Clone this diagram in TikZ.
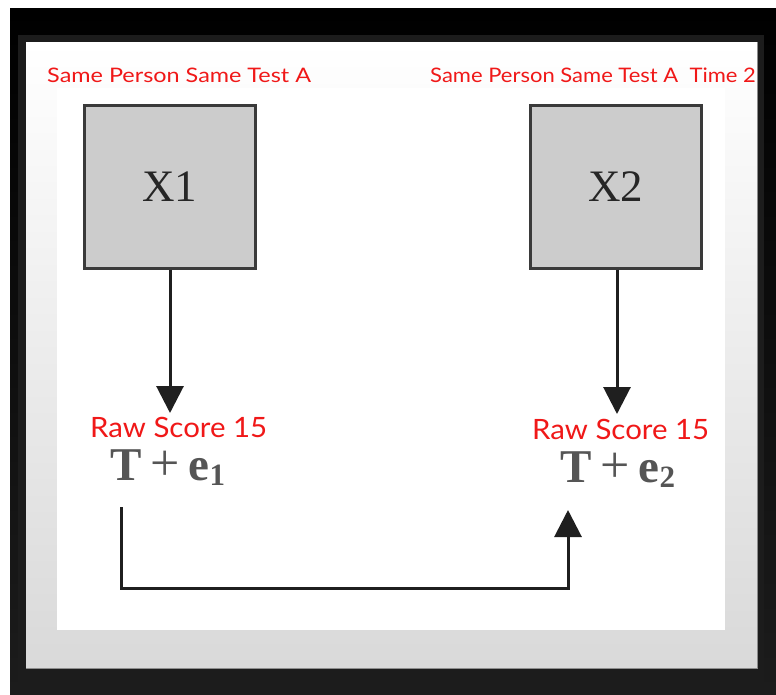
\documentclass[tikz,border=0pt]{standalone}
\usepackage{fontspec}
\setmainfont{Liberation Serif}
\newfontfamily\gillfont{Lato}
\usetikzlibrary{arrows.meta}
\definecolor{redtxt}{HTML}{F01818}
\definecolor{boxfill}{HTML}{CCCCCC}
\definecolor{boxline}{HTML}{3A3A3A}
\definecolor{framegray}{HTML}{1C1C1C}
\definecolor{panelgray}{HTML}{D9D9D9}
\definecolor{formulagray}{HTML}{555555}
\tikzset{
  boxnode/.style={draw=boxline, fill=boxfill, line width=3pt, minimum width=171pt, minimum height=163pt, inner sep=0pt, font=\fontsize{45}{45}\selectfont, text=black!85},
  toplabel/.style={text=redtxt, font=\gillfont\fontsize{20}{20}\selectfont, inner sep=0pt, anchor=base west},
  rawlabel/.style={text=redtxt, font=\gillfont\fontsize{28}{28}\selectfont, inner sep=0pt, anchor=base west, xscale=1.05},
  formula/.style={text=formulagray, font=\fontsize{47}{47}\selectfont, inner sep=0pt, anchor=base west},
  conn/.style={draw=black!88, line width=3pt, -{Triangle[length=27pt,width=27pt]}}
}
\begin{document}
\begin{tikzpicture}[x=1pt,y=-1pt]
\useasboundingbox (0,0) rectangle (776,694);
% background frames
\fill[white] (0,0) rectangle (776,694);
\shade[top color=black, bottom color=framegray] (10,8) rectangle (776,694);
\fill[framegray] (18,35) rectangle (764,694);
\shade[top color=white, bottom color=panelgray] (26,42) rectangle (757,668);
\draw[black!45, line width=1pt] (26,668) -- (757,668) -- (757,42);
\fill[white] (57,88) rectangle (725,630);
% labels
\node[toplabel, xscale=1.17] (l1) at (47,82) {Same Person Same Test A};
\node[toplabel, xscale=1.1] (l2) at (430,82) {Same Person Same Test A\ \ Time 2};
% boxes
\node[boxnode] (x1) at (169.5,186.5) {X1};
\node[boxnode] (x2) at (616,186.5) {X2};
% raw scores
\node[rawlabel] (r1) at (90,437) {Raw Score 15};
\node[rawlabel] (r2) at (532,439) {Raw Score 15};
% formulas
\node[formula] (t1) at (110,480) {\textbf{T}\hspace{9pt}{\fontsize{52}{52}\selectfont +}\hspace{9pt}\textbf{e}\raisebox{-0.25ex}{\fontsize{31}{31}\selectfont\textbf{1}}};
\node[formula] (t2) at (560,482) {\textbf{T}\hspace{9pt}{\fontsize{52}{52}\selectfont +}\hspace{9pt}\textbf{e}\raisebox{-0.25ex}{\fontsize{31}{31}\selectfont\textbf{2}}};
% connectors
\coordinate (tip1) at (170,413);
\coordinate (tip2) at (617,414);
\draw[conn] (x1.south -| tip1) -- (tip1);
\draw[conn] (x2.south -| tip2) -- (tip2);
\coordinate (b1) at (121,507);
\coordinate (bc) at (121,588);
\coordinate (b2) at (568,510);
\draw[conn] (b1) -- (bc) -| (b2);
\end{tikzpicture}
\end{document}
